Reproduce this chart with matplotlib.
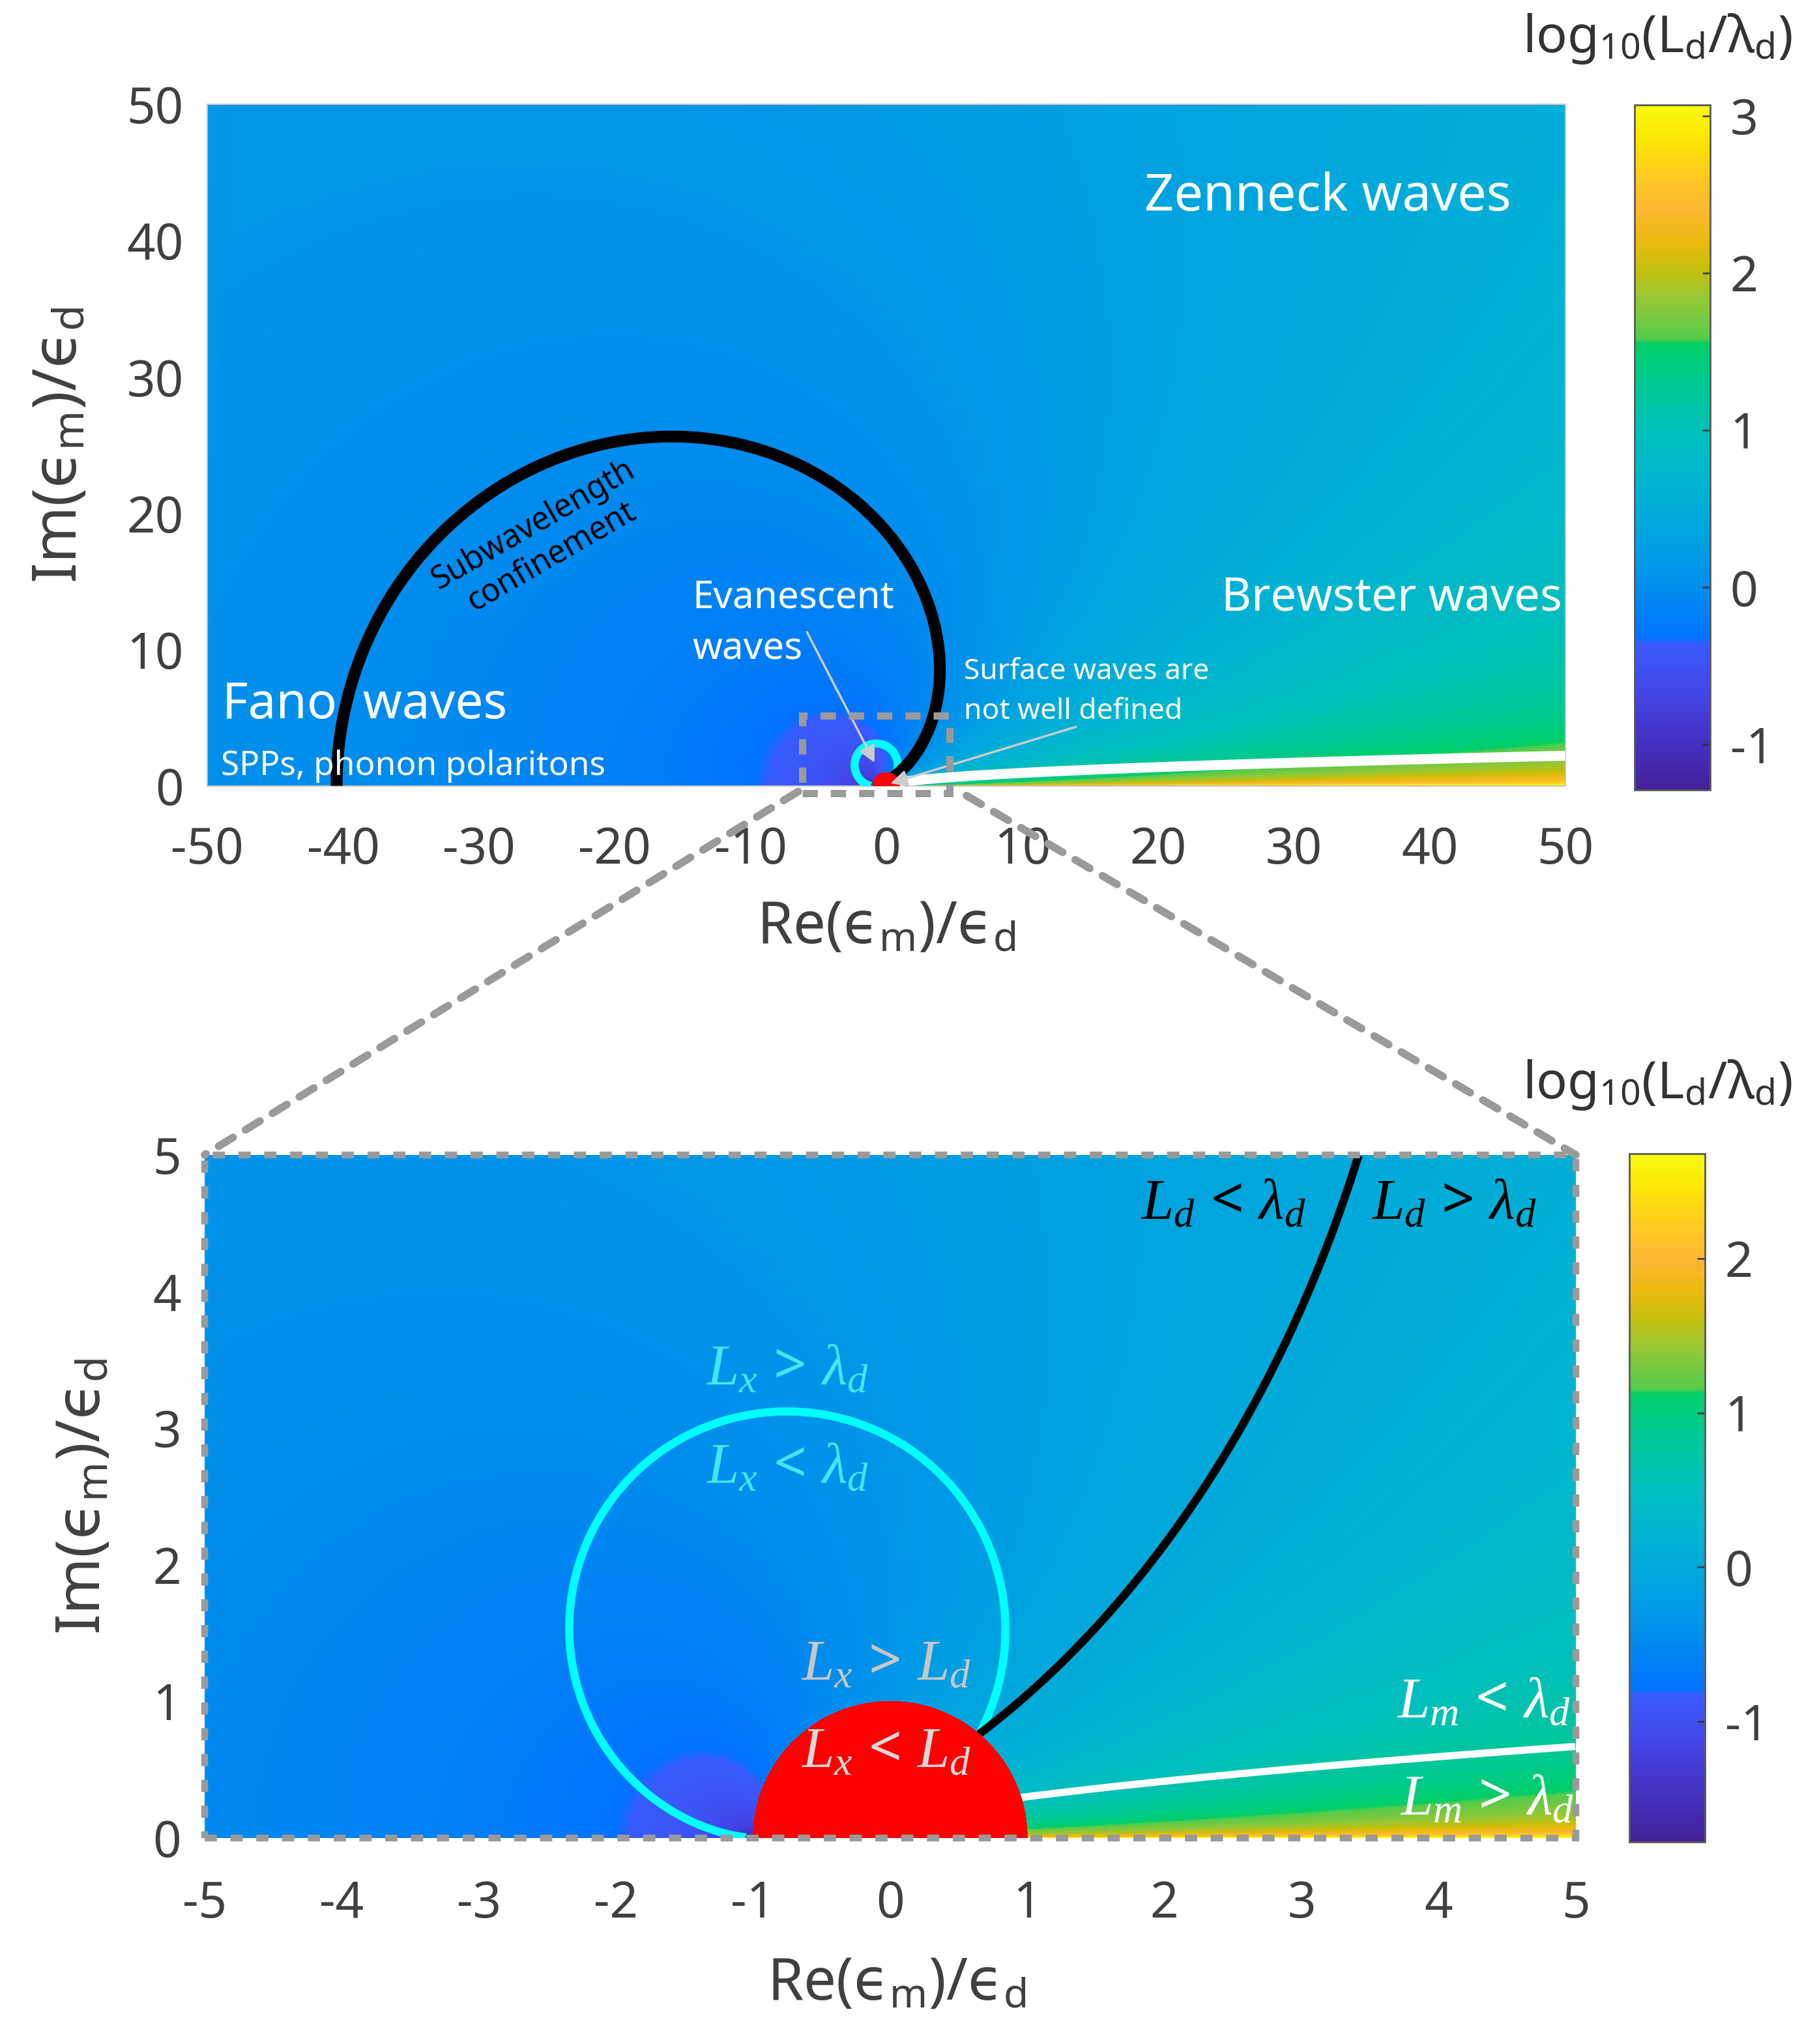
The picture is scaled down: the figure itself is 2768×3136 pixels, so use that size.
import numpy as np
import matplotlib
matplotlib.use("Agg")
import matplotlib.pyplot as plt
from matplotlib.colors import LinearSegmentedColormap
from matplotlib.patches import Rectangle, ConnectionPatch

# ------------------------------------------------------------------
# Values
# ------------------------------------------------------------------
top_xlim = [-50, 50]
top_ylim = [0, 50]
bot_xlim = [-5, 5]
bot_ylim = [0, 5]
top_xticks = [-50, -40, -30, -20, -10, 0, 10, 20, 30, 40, 50]
top_yticks = [0, 10, 20, 30, 40, 50]
bot_xticks = [-5, -4, -3, -2, -1, 0, 1, 2, 3, 4, 5]
bot_yticks = [0, 1, 2, 3, 4, 5]
top_clim = [-1.29, 3.07]          # colour-bar range, upper panel
bot_clim = [-1.78, 2.68]          # colour-bar range, lower panel
top_cticks = [-1, 0, 1, 2, 3]
bot_cticks = [-1, 0, 1, 2]
boundary_level = [0.0]            # log10(L / lambda_d) = 0  ->  L = lambda_d
zoom_box_x = [-6.2, 4.65]         # dashed box drawn in the upper panel
zoom_box_y = [-0.5, 5.15]
connector_start_left = (-6.5, -0.4)
connector_start_right = (5.9, -0.7)

top_texts = ["Zenneck waves", "Brewster waves", "Evanescent", "waves",
             "Fano  waves", "SPPs, phonon polaritons",
             "Surface waves are", "not well defined"]
top_text_xy = [(32.5, 42.2), (37.2, 12.9), (-14.3, 13.1), (-14.3, 9.3),
               (-48.9, 5.0), (-49.0, 0.8), (5.7, 7.84), (5.7, 4.92)]
top_text_size = [57, 51, 42, 42, 55, 37, 32, 32]
top_text_align = ['center', 'center', 'left', 'left', 'left', 'left', 'left', 'left']
curve_text = "Subwavelength\nconfinement"
curve_text_xy = (-25.3, 18.0)
evanescent_arrow = [(-5.85, 11.3), (-0.86, 1.72)]
surface_arrow = [(13.96, 4.35), (0.3, 0.2)]

bot_texts = [r"$L_d\,<\,\lambda_d$", r"$L_d\,>\,\lambda_d$",
             r"$L_x\,>\,\lambda_d$", r"$L_x\,<\,\lambda_d$",
             r"$L_x\,>\,L_d$", r"$L_x\,<\,L_d$",
             r"$L_m\,<\,\lambda_d$", r"$L_m\,>\,\lambda_d$"]
bot_text_xy = [(2.43, 4.53), (4.11, 4.53), (-0.75, 3.32), (-0.75, 2.60),
               (-0.03, 1.16), (-0.03, 0.52), (4.33, 0.88), (4.35, 0.17)]

# ------------------------------------------------------------------
# style
# ------------------------------------------------------------------
plt.rcParams['font.family'] = ['Noto Sans', 'DejaVu Sans']
plt.rcParams['axes.unicode_minus'] = False
plt.rcParams['mathtext.fontset'] = 'custom'
plt.rcParams['mathtext.rm'] = 'Noto Sans'
plt.rcParams['mathtext.it'] = 'Liberation Serif:italic'
plt.rcParams['mathtext.bf'] = 'Noto Sans:bold'
plt.rcParams['mathtext.sf'] = 'DejaVu Sans'
plt.rcParams['mathtext.fallback'] = 'stixsans'

cmap_anchor = [
    (0.000, (0.26, 0.13, 0.60)),
    (0.080, (0.27, 0.20, 0.78)),
    (0.150, (0.26, 0.28, 0.92)),
    (0.214, (0.22, 0.36, 0.99)),
    (0.220, (0.00, 0.45, 1.00)),
    (0.300, (0.00, 0.56, 0.93)),
    (0.370, (0.00, 0.64, 0.88)),
    (0.450, (0.00, 0.71, 0.82)),
    (0.520, (0.00, 0.75, 0.74)),
    (0.600, (0.00, 0.79, 0.56)),
    (0.652, (0.00, 0.81, 0.40)),
    (0.658, (0.33, 0.80, 0.30)),
    (0.720, (0.60, 0.78, 0.20)),
    (0.760, (0.77, 0.75, 0.05)),
    (0.800, (0.92, 0.73, 0.05)),
    (0.850, (0.99, 0.72, 0.20)),
    (0.900, (1.00, 0.80, 0.12)),
    (0.950, (0.99, 0.90, 0.02)),
    (1.000, (0.97, 0.98, 0.05)),
]
cmap = LinearSegmentedColormap.from_list("parula_like", cmap_anchor, N=512)

TICK_COLOR = '#404040'
DASH_GRAY = '#9a9a9a'
XLABEL = 'Re($\\mathsf{\u03f5}_{\\mathrm{m}}$)/$\\mathsf{\u03f5}_{\\mathrm{d}}$'
YLABEL = 'Im($\\mathsf{\u03f5}_{\\mathrm{m}}$)/$\\mathsf{\u03f5}_{\\mathrm{d}}$'
CBTITLE = r'log$_{\mathrm{10}}$(L$_{\mathrm{d}}$/λ$_{\mathrm{d}}$)'


def wave_lengths(re, im):
    """Decay lengths (in units of lambda_d) of a surface wave on the
    metal/dielectric interface with eps = eps_m/eps_d = re + i im."""
    R, I = np.meshgrid(re, im)
    eps = R + 1j * I
    with np.errstate(all='ignore'):
        kzd = np.sqrt(1.0 / (1.0 + eps))
        kx = np.sqrt(eps / (1.0 + eps))
        kzm = eps / np.sqrt(1.0 + eps)
        lam = 2 * np.pi
        Ld = 1.0 / np.abs(kzd.imag) / lam
        Lx = 1.0 / np.abs(kx.imag) / lam
        Lm = 1.0 / np.abs(kzm.imag) / lam
        lLd = np.nan_to_num(np.log10(Ld), nan=5, posinf=5, neginf=-5)
        lLx = np.nan_to_num(np.log10(Lx), nan=5, posinf=5, neginf=-5)
        lLm = np.nan_to_num(np.log10(Lm), nan=5, posinf=5, neginf=-5)
    return R, I, lLd, lLx, lLm


def draw_panel(ax, xlim, ylim, nx, ny, clim, lws):
    dx = (xlim[1] - xlim[0]) / nx
    dy = (ylim[1] - ylim[0]) / ny
    re = np.linspace(xlim[0] + dx / 2, xlim[1] - dx / 2, nx)
    im = np.linspace(ylim[0] + dy / 2, ylim[1] - dy / 2, ny)
    R, I, lLd, lLx, lLm = wave_lengths(re, im)
    img = ax.imshow(np.clip(lLd, clim[0], clim[1]), origin='lower',
                    extent=[xlim[0], xlim[1], ylim[0], ylim[1]],
                    cmap=cmap, vmin=clim[0], vmax=clim[1], aspect='auto',
                    interpolation='bilinear', zorder=1)
    ax.contour(R, I, lLx, levels=boundary_level, colors=[(0.0, 1.0, 1.0)],
               linewidths=lws[0], zorder=3)
    ax.contour(R, I, lLm, levels=boundary_level, colors=['white'],
               linewidths=lws[1], zorder=3)
    ax.contour(R, I, lLd, levels=boundary_level, colors=['black'],
               linewidths=lws[2], zorder=3)
    diff = np.clip(lLd - lLx, -50, 50)
    ax.contourf(R, I, diff, levels=[0, 60], colors=['red'], zorder=4)
    ax.set_xlim(xlim)
    ax.set_ylim(ylim)
    return img


def style_colorbar(fig, im, rect, ticks, title_y):
    cax = fig.add_axes(rect)
    cb = fig.colorbar(im, cax=cax, ticks=ticks)
    cb.outline.set_edgecolor('0.35')
    cb.outline.set_linewidth(2)
    cax.tick_params(direction='in', length=9, width=1.8, color='0.2',
                    labelsize=54, labelcolor=TICK_COLOR, pad=22)
    fig.text(0.9935, title_y, CBTITLE, fontsize=57, color='#333333',
             ha='right', va='baseline')


fig = plt.figure(figsize=(27.68, 31.36), dpi=100)

# ---------------- upper panel ----------------
ax1 = fig.add_axes([0.1149, 0.6154, 0.7529, 0.3335])
im1 = draw_panel(ax1, top_xlim, top_ylim, 2000, 1000, top_clim, (9, 11, 13))
ax1.set_xticks(top_xticks)
ax1.set_yticks(top_yticks)
ax1.tick_params(length=0, labelsize=55, labelcolor=TICK_COLOR)
ax1.tick_params(axis='x', pad=44)
ax1.tick_params(axis='y', pad=26)
for s in ax1.spines.values():
    s.set_edgecolor('0.78')
    s.set_linewidth(1.5)
ax1.set_xlabel(XLABEL, fontsize=64, color=TICK_COLOR)
ax1.xaxis.set_label_coords(0.5, -0.165)
ax1.set_ylabel(YLABEL, fontsize=67, color=TICK_COLOR)
ax1.yaxis.set_label_coords(-0.086, 0.5)

for t, (x, y), fs, ha in zip(top_texts, top_text_xy, top_text_size, top_text_align):
    ax1.text(x, y, t, fontsize=fs, color='white', ha=ha, va='baseline',
             zorder=6)
ax1.text(curve_text_xy[0], curve_text_xy[1], curve_text, fontsize=35,
         color='black', rotation=30, ha='center', va='center',
         rotation_mode='anchor', linespacing=1.15, zorder=6)

for (p0, p1) in [evanescent_arrow, surface_arrow]:
    ax1.annotate('', xy=p1, xytext=p0,
                 arrowprops=dict(arrowstyle='-|>', color='0.80', lw=2.5,
                                 mutation_scale=38, shrinkA=0, shrinkB=0),
                 zorder=7)

box = Rectangle((zoom_box_x[0], zoom_box_y[0]), zoom_box_x[1] - zoom_box_x[0],
                zoom_box_y[1] - zoom_box_y[0], fill=False, ec=DASH_GRAY,
                lw=8, ls=(0, (2.1, 1.8)), clip_on=False, zorder=8)
ax1.add_patch(box)

style_colorbar(fig, im1, [0.9061, 0.6135, 0.0419, 0.3352], top_cticks, 0.9745)

# ---------------- lower panel ----------------
ax2 = fig.add_axes([0.1134, 0.1008, 0.7601, 0.3342])
im2 = draw_panel(ax2, bot_xlim, bot_ylim, 1200, 600, bot_clim, (9, 8, 9))
ax2.set_xticks(bot_xticks)
ax2.set_yticks(bot_yticks)
ax2.tick_params(length=0, labelsize=55, labelcolor=TICK_COLOR)
ax2.tick_params(axis='x', pad=46)
ax2.tick_params(axis='y', pad=26)
for s in ax2.spines.values():
    s.set_visible(False)
ax2.set_xlabel(XLABEL, fontsize=64, color=TICK_COLOR)
ax2.xaxis.set_label_coords(0.505, -0.172)
ax2.set_ylabel(YLABEL, fontsize=67, color=TICK_COLOR)
ax2.yaxis.set_label_coords(-0.066, 0.5)

bot_colors = ['black', 'black', (0.25, 0.90, 0.95), (0.25, 0.90, 0.95),
              '0.78', '0.85', 'white', 'white']
for t, (x, y), c in zip(bot_texts, bot_text_xy, bot_colors):
    ax2.text(x, y, t, fontsize=64, color=c, ha='center', va='baseline',
             zorder=6)

frame = Rectangle((0, 0), 1, 1, transform=ax2.transAxes, fill=False,
                  ec=DASH_GRAY, lw=7.5, ls=(0, (1.8, 2.0)), clip_on=False,
                  zorder=8)
ax2.add_patch(frame)

style_colorbar(fig, im2, [0.9032, 0.0989, 0.0419, 0.3367], bot_cticks, 0.4627)

# ---------------- zoom connectors ----------------
for start, end in [(connector_start_left, (0, 1)), (connector_start_right, (1, 1))]:
    con = ConnectionPatch(xyA=start, coordsA=ax1.transData,
                          xyB=end, coordsB=ax2.transAxes,
                          color=DASH_GRAY, lw=8.5, ls=(0, (2.2, 1.9)),
                          zorder=9)
    fig.add_artist(con)

fig.savefig('out.png', dpi=100)
